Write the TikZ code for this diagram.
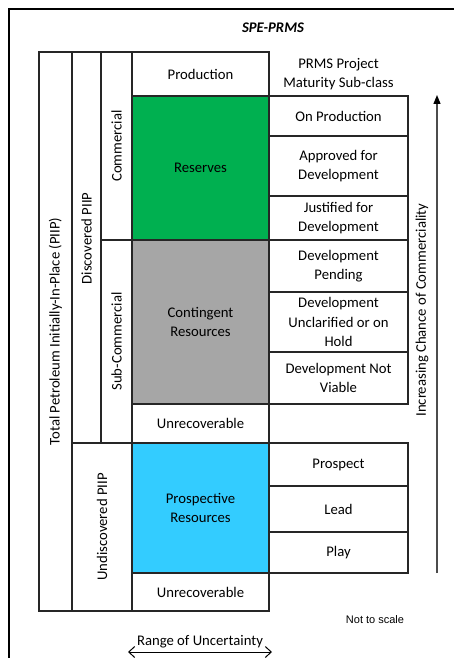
\documentclass[tikz,border=0pt]{standalone}
\usepackage{fontspec}
\setmainfont{Carlito}
\newfontfamily\notefont{Liberation Sans}
\usetikzlibrary{arrows.meta, positioning}
\definecolor{resgreen}{RGB}{0,176,80}
\definecolor{congray}{RGB}{166,166,166}
\definecolor{prosblue}{RGB}{51,204,255}
\tikzset{
	cell/.style={draw=black!85, line width=1.1pt, inner sep=0pt, outer sep=0pt, align=center},
	vcell/.style={cell, rotate=90},
	subcell/.style={cell, minimum width=139}
}

\begin{document}
\begin{tikzpicture}[x=1pt, y=-1pt]
	\fontsize{14.7}{19.5}\selectfont
	\useasboundingbox (0,0) rectangle (454,658);
	\draw[line width=2pt] (9,658) -- (9,9) -- (454,9); 

	\node[font=\bfseries\itshape] (title) at (273,28) {SPE-PRMS}; 

	% --- left columns (rotated) --- 
	\node[vcell, minimum width=559, minimum height=33] (piip) at (55.5,331.5) {Total Petroleum Initially-In-Place (PIIP)}; 
	\node[vcell, minimum width=391, minimum height=29] (disc) at (86.5,247.5) {\hspace*{18pt}Discovered PIIP}; 
	\node[vcell, minimum width=168, minimum height=60] (undisc) at (102,527) {Undiscovered PIIP}; 
	\node[vcell, minimum width=188, minimum height=31] (comm) at (116.5,146) {Commercial}; 
	\node[vcell, minimum width=203, minimum height=31] (subcomm) at (116.5,341.5) {Sub-Commercial}; 

	% --- classes --- 
	\node[cell, minimum width=137, minimum height=44] (prod) at (200.5,74) {Production}; 
	\node[cell, fill=resgreen, minimum width=137, minimum height=144] (res) at (200.5,168) {Reserves}; 
	\node[cell, fill=congray, minimum width=137, minimum height=164] (cont) at (200.5,322) {Contingent\\Resources}; 
	\node[cell, minimum width=137, minimum height=39] (unrecA) at (200.5,423.5) {Unrecoverable}; 
	\node[cell, fill=prosblue, minimum width=137, minimum height=130] (pros) at (200.5,508) {Prospective\\Resources}; 
	\node[cell, minimum width=137, minimum height=38] (unrecB) at (200.5,592) {Unrecoverable}; 

	% --- project maturity sub-classes --- 
	\node[align=center] (subhead) at (338.5,74) {PRMS Project\\Maturity Sub-class}; 
	\node[subcell, minimum height=40] (onprod) at (338.5,116) {On Production}; 
	\node[subcell, minimum height=60] (approved) at (338.5,166) {Approved for\\Development}; 
	\node[subcell, minimum height=44] (justified) at (338.5,218) {Justified for\\Development}; 
	\node[subcell, minimum height=52] (pending) at (338.5,266) {Development\\Pending}; 
	\node[subcell, minimum height=60] (unclar) at (338.5,322) {Development\\Unclarified or on\\Hold}; 
	\node[subcell, minimum height=52] (notviable) at (338.5,378) {Development Not\\Viable}; 
	\node[subcell, minimum height=43] (prospect) at (338.5,464.5) {Prospect}; 
	\node[subcell, minimum height=46] (lead) at (338.5,509) {Lead}; 
	\node[subcell, minimum height=41] (play) at (338.5,552.5) {Play}; 

	% --- axes --- 
	\coordinate (chanceLow) at (437,573); 
	\coordinate (chanceHigh) at (437,95); 
	\draw[-{Triangle[length=9pt, width=7pt, black]}, line width=1.3pt, black!70] (chanceLow) -- (chanceHigh) 
		node[pos=.55, sloped, above, inner sep=8pt, text=black] {Increasing Chance of Commerciality}; 

	\node[font=\notefont\fontsize{11}{13}\selectfont] (scale) at (375,620) {Not to scale}; 

	\coordinate (rangeLow) at (128,652); 
	\coordinate (rangeHigh) at (272,652); 
	\draw[{Straight Barb[length=6pt, width=11pt]}-{Straight Barb[length=6pt, width=11pt]}, line width=1pt] (rangeLow) -- (rangeHigh) 
		node[midway, above, inner sep=3pt] {Range of Uncertainty}; 
\end{tikzpicture}
\end{document}
